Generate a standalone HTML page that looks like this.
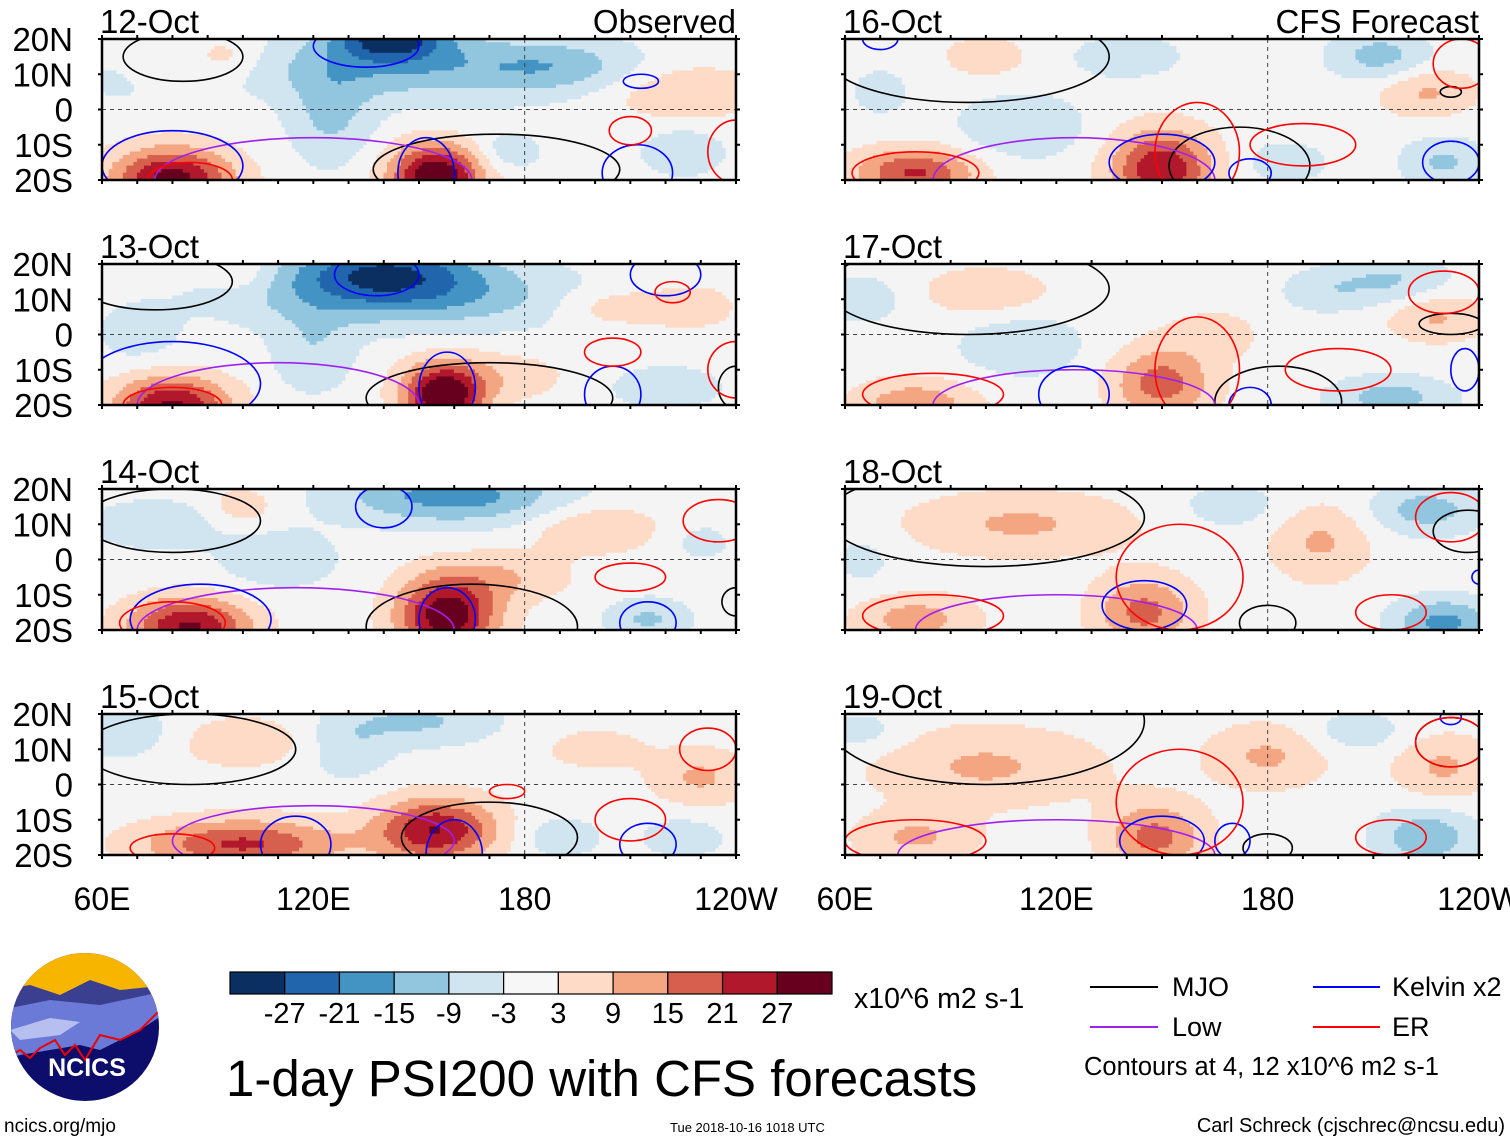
<!DOCTYPE html>
<html><head><meta charset="utf-8"><style>
body{margin:0;background:#fff;}
svg{display:block;font-family:"Liberation Sans",sans-serif;}
</style></head><body>
<svg id="fig" width="1510" height="1142" viewBox="0 0 1510 1142" xmlns="http://www.w3.org/2000/svg">
<defs id="defs"></defs>
<g id="panels"></g>
<g id="cbar"></g>
<text x="854" y="1008" font-size="28.5">x10^6 m2 s-1</text>
<text x="226" y="1096" font-size="51">1-day PSI200 with CFS forecasts</text>
<text x="4" y="1132" font-size="19">ncics.org/mjo</text>
<text x="670" y="1132" font-size="13">Tue 2018-10-16 1018 UTC</text>
<text x="1505" y="1132" font-size="20" text-anchor="end">Carl Schreck (cjschrec@ncsu.edu)</text>
<g>
<line x1="1090" y1="987" x2="1158" y2="987" stroke="#000" stroke-width="2"/>
<text x="1172" y="996" font-size="27">MJO</text>
<line x1="1090" y1="1027" x2="1158" y2="1027" stroke="#a020f0" stroke-width="2"/>
<text x="1172" y="1036" font-size="27">Low</text>
<line x1="1313" y1="987" x2="1380" y2="987" stroke="#0000ff" stroke-width="2"/>
<text x="1392" y="996" font-size="27">Kelvin x2</text>
<line x1="1313" y1="1027" x2="1380" y2="1027" stroke="#ff0000" stroke-width="2"/>
<text x="1392" y="1036" font-size="27">ER</text>
<text x="1084" y="1075" font-size="25.5">Contours at 4, 12 x10^6 m2 s-1</text>
</g>
<g>
<clipPath id="logoclip"><ellipse cx="85" cy="1027" rx="74" ry="74"/></clipPath>
<g clip-path="url(#logoclip)">
<rect x="0" y="950" width="170" height="160" fill="#0d0d6b"/>
<rect x="0" y="950" width="170" height="45" fill="#f7b500"/>
<path d="M0,990 L30,985 L60,995 L90,980 L120,990 L170,985 L170,1010 L100,1040 L40,1050 L0,1040Z" fill="#3b3f8f"/>
<path d="M0,1010 L50,1000 L100,1005 L170,990 L170,1010 L140,1030 L120,1040 L100,1050 L80,1045 L50,1050 L20,1055 L0,1060Z" fill="#6a7ad6"/>
<path d="M10,1030 L50,1018 L80,1022 L60,1035 L20,1040Z" fill="#b7bff0"/>
<path d="M0,1062 L20,1050 L30,1058 L40,1048 L55,1040 L65,1055 L75,1045 L85,1060 L100,1035 L120,1040 L140,1030 L160,1010 L170,1005" fill="none" stroke="#e00" stroke-width="2"/>
</g>
<text x="87" y="1076" font-size="25" font-weight="bold" fill="#fff" text-anchor="middle">NCICS</text>
</g>
</svg>
<script>
// ---- colour scale data ----
const levels = [-27,-21,-15,-9,-3,3,9,15,21,27];
const levelColors = ["#0b2f60","#2166ac","#4393c3","#92c5de","#d1e5f0","#f7f7f7","#fddbc7","#f4a582","#d6604d","#b2182b","#67001f"];
// ---- panel metadata ----
const panelDates = ["12-Oct","13-Oct","14-Oct","15-Oct","16-Oct","17-Oct","18-Oct","19-Oct"];
const lonTicks = [60,120,180,240];
const lonTickLabels = ["60E","120E","180","120W"];
const latTicks = [20,10,0,-10,-20];
const latTickLabels = ["20N","10N","0","10S","20S"];
// ---- anomaly centres per panel: [lon, lat, amplitude, lonRadius, latRadius] ----
const blobs12 = [[142,21,-28,16,7],[150,12,-13,50,10],[125,-2,-10,12,14],[190,12,-8,22,7],[80,-20,30,17,9],[155,-19,34,13,9],[95,15,7,10,6],[70,12,5,12,6],[225,5,9,22,8],[175,-12,-7,10,6],[225,-12,-8,12,7],[65,10,-6,12,8]];
const blobs13 = [[140,18,-24,28,9],[150,10,-12,55,9],[120,-5,-8,12,12],[80,-20,28,16,8],[157,-18,34,11,9],[205,8,9,18,6],[228,8,8,12,6],[100,17,6,10,5],[170,-12,7,22,7],[220,-15,-8,16,6],[70,0,-6,12,8]];
const blobs14 = [[160,18,-18,32,8],[75,10,-8,18,7],[100,15,7,10,6],[85,-19,28,17,8],[158,-16,32,14,11],[200,9,9,18,7],[215,-17,-10,12,6],[110,0,-7,18,9],[175,-5,8,18,7],[230,5,-5,10,6]];
const blobs15 = [[65,15,-9,14,7],[100,12,8,18,7],[150,18,-10,22,7],[230,2,10,14,8],[100,-17,22,28,7],[155,-13,27,17,9],[190,-15,-7,12,6],[225,-15,-7,12,6],[130,10,-7,12,9],[200,10,6,15,6]];
const blobs16 = [[100,15,7,12,6],[212,15,-12,14,7],[225,5,10,14,7],[80,-18,22,17,7],[150,-17,27,14,11],[110,-5,-9,18,9],[185,-15,-7,12,6],[230,-15,-10,12,7],[140,15,-6,18,7],[70,5,-5,10,8]];
const blobs17 = [[100,12,8,18,7],[65,10,-7,12,7],[215,15,-10,17,7],[228,5,10,14,7],[150,-14,18,14,10],[80,-20,14,17,7],[215,-18,-12,17,6],[110,-3,-8,18,9],[195,12,-6,12,6],[165,0,5,15,8]];
const blobs18 = [[110,10,10,32,9],[195,5,10,14,11],[225,14,-12,16,7],[145,-15,17,14,10],[80,-17,12,17,7],[230,-18,-17,14,7],[170,15,-6,17,7],[65,0,-5,10,8]];
const blobs19 = [[100,5,10,32,11],[180,8,10,17,9],[230,5,10,14,9],[148,-15,17,14,10],[80,-15,10,17,7],[225,-15,-14,14,8],[65,15,-6,12,6],[205,15,-7,14,6]];
const panelBlobs = [blobs12,blobs13,blobs14,blobs15,blobs16,blobs17,blobs18,blobs19];
// ---- contour ellipses per panel: [lon, lat, lonRadius, latRadius] ----
const mjoC = [
 [[83,15,17,7],[172,-17,35,10]],
 [[75,15,22,8],[170,-18,35,10],[240,-15,5,6]],
 [[80,11,25,9],[165,-19,30,12],[240,-12,4,4]],
 [[85,10,30,10],[170,-15,25,10]],
 [[95,15,40,13],[172,-16,20,11],[232,5,3,1.5]],
 [[95,13,40,13],[183,-19,18,10],[232,3,9,3]],
 [[100,12,45,14],[180,-18,8,5],[237,8,10,6]],
 [[100,18,45,18],[180,-18,7,4],[232,12,10,7]]];
const lowC = [[[120,-20,45,12]],[[110,-20,40,12]],[[115,-20,45,12]],[[120,-16,40,10]],[[125,-20,40,12]],[[125,-20,40,10]],[[120,-20,40,10]],[[120,-20,45,10]]];
const kelvinC = [
 [[80,-16,20,10],[135,18,15,6],[152,-18,8,10],[213,8,5,2],[212,-18,10,8]],
 [[80,-14,25,12],[138,17,12,6],[158,-15,8,10],[220,17,10,6],[205,-17,8,8]],
 [[88,-17,20,10],[140,15,8,6],[158,-17,8,9],[215,-18,8,6]],
 [[115,-17,10,8],[160,-20,8,10],[215,-17,8,6]],
 [[70,20,5,3],[150,-15,15,8],[175,-18,6,4],[232,-15,8,6]],
 [[125,-17,10,8],[175,-20,6,5],[236,-10,4,6]],
 [[145,-13,12,7],[240,-5,2,2]],
 [[150,-16,12,7],[170,-16,5,5],[232,19,3,2]]];
const erC = [
 [[85,-20,12,5],[210,-6,6,4],[240,-12,8,9]],
 [[80,-20,14,5],[205,-5,8,4],[222,12,5,3],[240,-10,8,8]],
 [[80,-18,15,6],[210,-5,10,4],[235,11,10,6]],
 [[80,-18,12,4],[175,-2,5,2],[210,-10,10,6],[232,10,8,6]],
 [[80,-18,18,6],[160,-12,12,14],[190,-10,15,6],[235,13,8,7]],
 [[85,-17,20,6],[160,-10,12,15],[200,-10,15,6],[230,12,10,6]],
 [[85,-16,20,6],[155,-5,18,15],[215,-15,10,5],[232,12,10,7]],
 [[80,-16,20,6],[155,-5,18,15],[215,-15,10,5],[232,12,10,7]]];
// ---- layout ----
const panelX = [102,845], panelY=[39,264,489,714], PW=634, PH=141;
const NS="http://www.w3.org/2000/svg";
function mk(tag,attrs,parent){const e=document.createElementNS(NS,tag);for(const k in attrs)e.setAttribute(k,attrs[k]);if(parent)parent.appendChild(e);return e;}
function colorFor(v){let i=0;while(i<levels.length&&v>levels[i])i++;return levelColors[i];}
const root=document.getElementById('panels');
const defs=document.getElementById('defs');
const STEP=1;
for(let p=0;p<8;p++){
  const col=p<4?0:1,row=p%4;
  const x0=panelX[col],y0=panelY[row];
  const xs=lon=>x0+(lon-60)/180*PW;
  const ys=lat=>y0+(20-lat)/40*PH;
  const g=mk('g',{},root);
  
  
  const cp=mk('clipPath',{id:'clip'+p},defs);
  mk('rect',{x:x0,y:y0,width:PW,height:PH},cp);
  const field=mk('g',{'clip-path':'url(#clip'+p+')'},g);
  
  
  mk('rect',{x:x0,y:y0,width:PW,height:PH,fill:'#f4f4f4'},field);
  const B=panelBlobs[p];
  for(let lat=20;lat>-20;lat-=STEP){
    let runStart=null,runColor=null;
    const flush=(endLon)=>{
      if(runColor&&runColor!=="#f7f7f7"){
        const r=mk('rect',{x:xs(runStart)-0.3,y:ys(lat)-0.3,width:xs(endLon)-xs(runStart)+0.6,height:PH/40*STEP+0.6,fill:runColor},field);
        
        
      }
    };
    for(let lon=60;lon<240;lon+=STEP){
      const lc=lon+STEP/2,pc=lat-STEP/2;let v=0;
      for(const b of B){const dl=(lc-b[0])/b[3],dp=(pc-b[1])/b[4];v+=b[2]*Math.exp(-(dl*dl+dp*dp));}
      const c=colorFor(v);
      if(c!==runColor){flush(lon);runStart=lon;runColor=c;}
    }
    flush(240);
  }
  mk('line',{x1:x0,y1:ys(0),x2:x0+PW,y2:ys(0),stroke:'#444','stroke-dasharray':'4,4','stroke-width':1},field);
  mk('line',{x1:xs(180),y1:y0,x2:xs(180),y2:y0+PH,stroke:'#444','stroke-dasharray':'4,4','stroke-width':1},field);
  const types=[[mjoC,'#000','mjo-contour'],[lowC,'#a020f0','low-contour'],[kelvinC,'#0000ff','kelvin-contour'],[erC,'#ff0000','er-contour']];
  for(const [arr,color,nm] of types){
    for(const c of arr[p]){
      const e=mk('ellipse',{cx:xs(c[0]),cy:ys(c[1]),rx:c[2]/180*PW,ry:c[3]/40*PH,fill:'none',stroke:color,'stroke-width':1.6},field);
      
      
    }
  }
  const fr=mk('rect',{x:x0,y:y0,width:PW,height:PH,fill:'none',stroke:'#000','stroke-width':2.5},g);
  
  
  for(let lon=60;lon<=240;lon+=10){
    mk('line',{x1:xs(lon),y1:y0-4,x2:xs(lon),y2:y0,stroke:'#000','stroke-width':2},g);
    mk('line',{x1:xs(lon),y1:y0+PH,x2:xs(lon),y2:y0+PH+4,stroke:'#000','stroke-width':2},g);
  }
  for(const lat of latTicks){
    mk('line',{x1:x0-4,y1:ys(lat),x2:x0,y2:ys(lat),stroke:'#000','stroke-width':2},g);
    mk('line',{x1:x0+PW,y1:ys(lat),x2:x0+PW+4,y2:ys(lat),stroke:'#000','stroke-width':2},g);
  }
  const t=mk('text',{x:x0-2,y:y0-6,'font-size':33},g);
  t.textContent=panelDates[p];
  
  
  if(row===0){
    const s=mk('text',{x:x0+PW,y:y0-6,'font-size':33,'text-anchor':'end'},g);
    s.textContent=col===0?'Observed':'CFS Forecast';
    
    
  }
  if(col===0){
    latTicks.forEach((lat,i)=>{
      const l=mk('text',{x:73,y:ys(lat)+12,'font-size':33,'text-anchor':'end'},g);
      l.textContent=latTickLabels[i];
      
      
    });
  }
  if(row===3){
    lonTicks.forEach((lon,i)=>{
      const l=mk('text',{x:xs(lon),y:910,'font-size':32,'text-anchor':'middle'},g);
      l.textContent=lonTickLabels[i];
      
      
    });
  }
}
// colorbar
const cb=document.getElementById('cbar');
const cbx=230,cbw=602/11;
levelColors.forEach((c,i)=>{
  const r=mk('rect',{x:cbx+i*cbw,y:972,width:cbw,height:22,fill:c,stroke:'#000','stroke-width':1.2},cb);
  
  
});
levels.forEach((v,i)=>{
  const t=mk('text',{x:cbx+(i+1)*cbw,y:1023,'font-size':29,'text-anchor':'middle'},cb);
  t.textContent=String(v);
  
  
});
</script>
</body></html>
